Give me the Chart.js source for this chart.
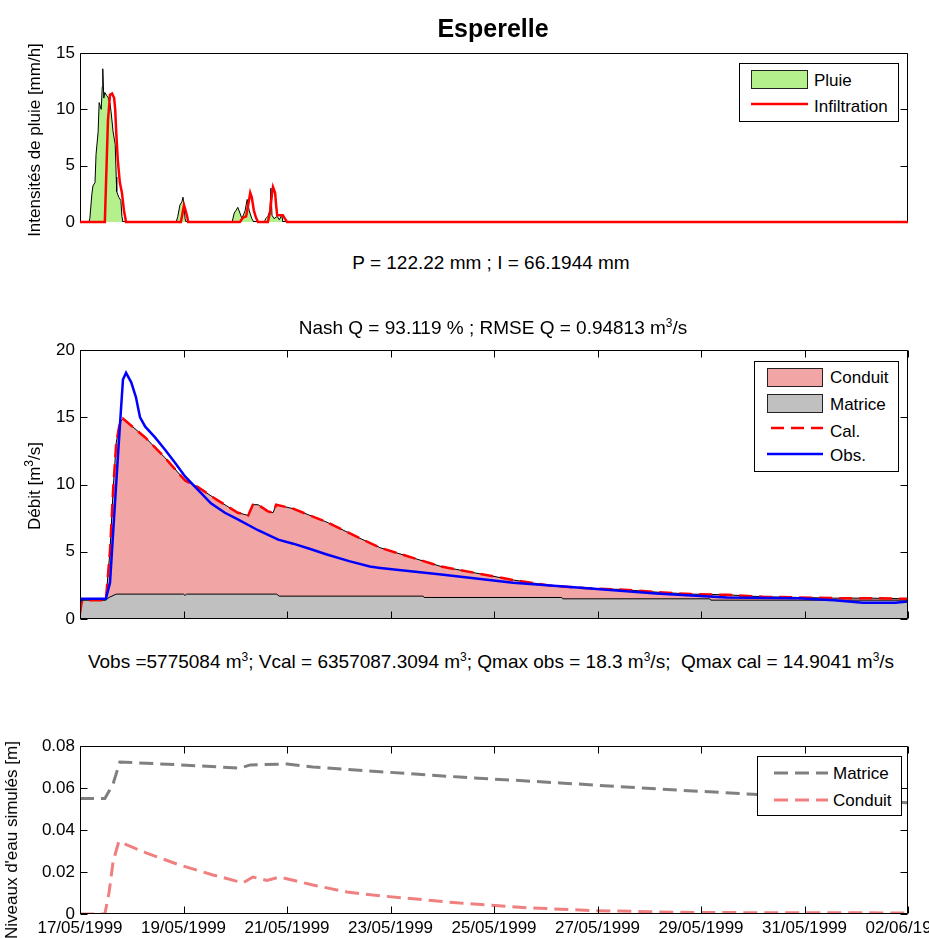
<!DOCTYPE html>
<html>
<head>
<meta charset="utf-8">
<script src="https://cdn.jsdelivr.net/npm/chart.js@4.4.1/dist/chart.umd.min.js"></script>
<style>
  body { margin: 0; background: #fff; width: 929px; height: 938px; overflow: hidden; position: relative;
         font-family: "Liberation Sans", Arial, sans-serif; color: #000; }
  canvas { position: absolute; left: 0; }
  .t { position: absolute; white-space: nowrap; font-size: 17px; transform: translate(-50%, -50%); }
  .big { font-size: 19px; }
  .r { transform: translate(-50%, -50%) rotate(-90deg); }
  .title { font-size: 25px; font-weight: bold; }
  sup { font-size: 12px; vertical-align: 7px; line-height: 0; }
  .leg { position: absolute; border: 1px solid #000; background: #fff; box-sizing: border-box; }
  .leg div, .leg svg { position: absolute; }
  .leg .lab { font-size: 17px; white-space: nowrap; transform: translateY(-50%); }
  .sw { border: 1px solid #222; box-sizing: border-box; }
</style>
</head>
<body>
<canvas id="rain" width="929" height="240" style="top:0"></canvas>
<canvas id="flow" width="929" height="340" style="top:300px"></canvas>
<canvas id="level" width="929" height="238" style="top:700px"></canvas>

<div class="t title" style="left:493px;top:28px">Esperelle</div>
<div class="t r" style="left:35px;top:140px">Intensités de pluie [mm/h]</div>
<div class="t big" style="left:491px;top:263px">P = 122.22 mm ; I = 66.1944 mm</div>
<div class="t big" style="left:493px;top:328px">Nash Q = 93.119 % ; RMSE Q = 0.94813 m<sup>3</sup>/s</div>
<div class="t r" style="left:35px;top:486px">Débit [m<sup>3</sup>/s]</div>
<div class="t big" style="left:491px;top:662px">Vobs =5775084 m<sup>3</sup>; Vcal = 6357087.3094 m<sup>3</sup>; Qmax obs = 18.3 m<sup>3</sup>/s;&nbsp; Qmax cal = 14.9041 m<sup>3</sup>/s</div>
<div class="t r" style="left:12px;top:840px">Niveaux d'eau simulés [m]</div>

<div class="leg" style="left:739px;top:63px;width:160px;height:59px">
  <div class="sw" style="left:11px;top:6px;width:57px;height:19px;background:#b4f08c"></div>
  <div class="lab" style="left:74px;top:17px">Pluie</div>
  <svg style="left:11px;top:36px" width="57" height="8"><line x1="0" y1="4" x2="57" y2="4" stroke="#f00" stroke-width="2.5"/></svg>
  <div class="lab" style="left:74px;top:43px">Infiltration</div>
</div>

<div class="leg" style="left:754px;top:361px;width:145px;height:111px">
  <div class="sw" style="left:12px;top:6px;width:56px;height:19px;background:#f2a5a5"></div>
  <div class="lab" style="left:75px;top:16px">Conduit</div>
  <div class="sw" style="left:12px;top:32px;width:56px;height:19px;background:#c0c0c0"></div>
  <div class="lab" style="left:75px;top:43px">Matrice</div>
  <svg style="left:12px;top:62px" width="56" height="8"><line x1="4" y1="4" x2="56" y2="4" stroke="#f00" stroke-width="2.5" stroke-dasharray="13 7"/></svg>
  <div class="lab" style="left:75px;top:70px">Cal.</div>
  <svg style="left:12px;top:88px" width="56" height="8"><line x1="0" y1="4" x2="56" y2="4" stroke="#00f" stroke-width="2.5"/></svg>
  <div class="lab" style="left:75px;top:94px">Obs.</div>
</div>

<div class="leg" style="left:757px;top:756px;width:145px;height:60px">
  <svg style="left:16px;top:12px" width="54" height="8"><line x1="0" y1="4" x2="54" y2="4" stroke="#808080" stroke-width="3" stroke-dasharray="14 7"/></svg>
  <div class="lab" style="left:75px;top:17px">Matrice</div>
  <svg style="left:16px;top:39px" width="54" height="8"><line x1="0" y1="4" x2="54" y2="4" stroke="#f08080" stroke-width="3" stroke-dasharray="14 7"/></svg>
  <div class="lab" style="left:75px;top:44px">Conduit</div>
</div>

<script>
// time axis: days since 17/05/1999 00:00
const xTickDays = [0, 2, 4, 6, 8, 10, 12, 14, 16];
const xDateLabels = ['17/05/1999', '19/05/1999', '21/05/1999', '23/05/1999', '25/05/1999',
  '27/05/1999', '29/05/1999', '31/05/1999', '02/06/1999'];

const yTicksRain = [0, 5, 10, 15];
const yTicksFlow = [0, 5, 10, 15, 20];
const yTicksLevel = [0, 0.02, 0.04, 0.06, 0.08];

// rain intensity (mm/h) [day, value]
const pluie = [[0, 0], [0.17, 0], [0.19, 0.3], [0.23, 2.5], [0.25, 3.2], [0.29, 3.5], [0.31, 6], [0.35, 8],
  [0.37, 10.6], [0.41, 10], [0.43, 12], [0.44, 13.6], [0.46, 11], [0.48, 11.5], [0.52, 11.2], [0.54, 11.1],
  [0.58, 10.5], [0.60, 9.8], [0.64, 8], [0.68, 6.9], [0.70, 4], [0.71, 2.7], [0.75, 2.2], [0.79, 1.9],
  [0.81, 0.5], [0.83, 0], [1.86, 0], [1.89, 0.5], [1.93, 1.5], [1.97, 1.8], [1.99, 2.2], [2.01, 1.5],
  [2.03, 0.3], [2.05, 0], [2.94, 0], [2.98, 0.8], [3.01, 1.0], [3.05, 1.3], [3.09, 0.8], [3.13, 0.3],
  [3.19, 1.0], [3.23, 2.0], [3.27, 1.0], [3.32, 0.3], [3.36, 0], [3.56, 0], [3.59, 0.3], [3.63, 0.5],
  [3.67, 1.0], [3.69, 3.0], [3.71, 0.6], [3.75, 0.3], [3.81, 0.5], [3.85, 0.2], [3.90, 0.6], [3.92, 0], [16, 0]];

const infiltration = [[0, 0], [0.48, 0], [0.50, 3], [0.54, 9], [0.58, 11.3], [0.62, 11.4], [0.66, 11],
  [0.68, 10], [0.70, 8], [0.73, 5.5], [0.77, 3.5], [0.81, 2.6], [0.85, 1], [0.89, 0], [1.95, 0], [1.99, 1],
  [2.01, 1.5], [2.03, 1.2], [2.07, 0.5], [2.09, 0], [3.09, 0], [3.15, 0.4], [3.21, 0.5], [3.25, 1.5],
  [3.29, 2.6], [3.32, 2.2], [3.36, 1], [3.40, 0.4], [3.44, 0], [3.63, 0], [3.67, 0.8], [3.71, 2.5],
  [3.73, 3.1], [3.77, 2.6], [3.79, 1.5], [3.81, 0.6], [3.86, 0.6], [3.92, 0.6], [3.96, 0.3], [4.00, 0], [16, 0]];

// discharge (m3/s)
const qObs = [[0, 1.3], [0.03, 1.5], [0.50, 1.5], [0.58, 2.7], [0.64, 6.4], [0.70, 10.1], [0.77, 14.3],
  [0.83, 17.8], [0.89, 18.3], [0.99, 17.6], [1.08, 16.5], [1.16, 15], [1.26, 14.3], [1.45, 13.5], [1.64, 12.6],
  [1.84, 11.6], [2.03, 10.6], [2.28, 9.6], [2.53, 8.6], [2.80, 7.9], [3.05, 7.4], [3.44, 6.6], [3.83, 5.9],
  [4.12, 5.6], [4.45, 5.2], [4.77, 4.8], [5.20, 4.3], [5.60, 3.9], [5.80, 3.8], [6.98, 3.3], [8.37, 2.7],
  [9.74, 2.3], [11.13, 1.9], [12.50, 1.6], [13.89, 1.55], [14.57, 1.4], [15.13, 1.2], [15.75, 1.2], [16, 1.3]];

const qCal = [[0, 0.4], [0.03, 1.2], [0.06, 1.4], [0.50, 1.4], [0.58, 5.1], [0.64, 9.6], [0.70, 13.1],
  [0.77, 14.6], [0.83, 14.9], [1.26, 13.5], [1.64, 12], [2.03, 10.3], [2.28, 9.8], [2.67, 8.8], [3.05, 7.9],
  [3.25, 7.7], [3.34, 8.5], [3.44, 8.5], [3.63, 8.0], [3.73, 7.9], [3.79, 8.5], [4.12, 8.2], [4.77, 7.2],
  [5.41, 6.0], [5.80, 5.3], [6.30, 4.7], [6.98, 3.9], [7.67, 3.4], [8.37, 2.9], [9.06, 2.5],
  [9.74, 2.3], [10.43, 2.2], [11.13, 2.0], [11.81, 1.85], [12.50, 1.8], [13.20, 1.65], [13.89, 1.6],
  [14.57, 1.55], [15.27, 1.55], [16, 1.5]];

const qMatrice = [[0, 1.2], [0.06, 1.4], [0.50, 1.4], [0.56, 1.6], [0.70, 1.85], [2.00, 1.85], [2.03, 1.75],
  [2.06, 1.85], [3.80, 1.85], [3.85, 1.7], [6.63, 1.7], [6.65, 1.6], [9.31, 1.6], [9.33, 1.5], [12.17, 1.5],
  [12.19, 1.4], [16, 1.4]];

// simulated water levels (m)
const hMatrice = [[0, 0.055], [0.48, 0.055], [0.64, 0.062], [0.77, 0.0724], [1.93, 0.071], [3.09, 0.0695],
  [3.29, 0.071], [4.0, 0.0714], [4.5, 0.070], [5.66, 0.068], [7.34, 0.0652], [9.28, 0.0624], [11.21, 0.0595],
  [13.01, 0.057], [16, 0.053]];

const hConduit = [[0, 0], [0.48, 0], [0.56, 0.01], [0.64, 0.025], [0.75, 0.0345], [1.29, 0.029],
  [1.93, 0.0233], [2.57, 0.0186], [3.15, 0.0148], [3.34, 0.0176], [3.61, 0.016], [3.86, 0.0176],
  [4.5, 0.0138], [5.16, 0.0105], [5.66, 0.009], [7.34, 0.0052], [8.64, 0.003], [9.91, 0.0016],
  [11.84, 0.0007], [16, 0.0005]];

const toXY = arr => arr.map(([x, y]) => ({ x, y }));
const tickFont = { family: 'Liberation Sans', size: 17 };

// MATLAB-style box with inward ticks
function drawBox(chart, opts) {
  const { ctx, chartArea: a } = chart;
  const xs = chart.scales.x, ys = chart.scales.y;
  const L = Math.round(a.left) + 0.5, R = Math.round(a.right) - 0.5;
  const T = Math.round(a.top) + 0.5, B = Math.round(a.bottom) - 0.5;
  ctx.save();
  ctx.strokeStyle = '#000';
  ctx.lineWidth = 1;
  ctx.beginPath();
  if (opts.xTicks) {
    xTickDays.forEach(v => {
      const px = Math.round(xs.getPixelForValue(v)) + 0.5;
      ctx.moveTo(px, B); ctx.lineTo(px, B - 7);
      ctx.moveTo(px, T); ctx.lineTo(px, T + 7);
    });
  }
  opts.yTicks.forEach(v => {
    const py = Math.round(ys.getPixelForValue(v)) + 0.5;
    ctx.moveTo(L, py); ctx.lineTo(L + 7, py);
    ctx.moveTo(R, py); ctx.lineTo(R - 7, py);
  });
  ctx.rect(L, T, R - L, B - T);
  ctx.stroke();
  ctx.restore();
}

const boxPlugin = {
  id: 'box',
  beforeDatasetsDraw(chart, args, opts) { if (opts.under) drawBox(chart, opts); },
  afterDatasetsDraw(chart, args, opts) { if (!opts.under) drawBox(chart, opts); }
};

function makeOptions(pad, xHeight, showX, yMax, yTicks, yFmt, xTicks, under) {
  return {
    responsive: false,
    animation: false,
    devicePixelRatio: 1,
    layout: { padding: { top: pad[0], right: 21, bottom: pad[1], left: 0 } },
    elements: { point: { radius: 0 }, line: { tension: 0 } },
    plugins: {
      legend: { display: false },
      tooltip: { enabled: false },
      box: { yTicks, xTicks, under }
    },
    scales: {
      x: {
        type: 'linear', min: 0, max: 16,
        afterBuildTicks: s => { s.ticks = xTickDays.map(v => ({ value: v })); },
        afterFit: s => { s.height = xHeight; s.paddingLeft = 0; s.paddingRight = 0; },
        grid: { display: false, drawTicks: false },
        border: { display: false },
        ticks: {
          display: showX, padding: 4, maxRotation: 0, autoSkip: false, font: tickFont, color: '#000',
          callback: (v, i) => xDateLabels[i]
        }
      },
      y: {
        min: 0, max: yMax,
        afterBuildTicks: s => { s.ticks = yTicks.map(v => ({ value: v })); },
        afterFit: s => { s.width = 80; s.paddingTop = 0; s.paddingBottom = 0; },
        grid: { display: false, drawTicks: false },
        border: { display: false },
        ticks: { padding: 5, font: tickFont, color: '#000', callback: yFmt }
      }
    }
  };
}

new Chart(document.getElementById('rain'), {
  type: 'line',
  data: {
    datasets: [
      { label: 'Infiltration', data: toXY(infiltration), borderColor: '#ff0000', borderWidth: 2.5, fill: false, order: 0, clip: 3 },
      { label: 'Pluie', data: toXY(pluie), borderColor: '#000', borderWidth: 1, backgroundColor: '#b4f08c', fill: 'origin', order: 1 }
    ]
  },
  options: makeOptions([53, 18], 0, false, 15, yTicksRain, v => String(v), false, true),
  plugins: [boxPlugin]
});

new Chart(document.getElementById('flow'), {
  type: 'line',
  data: {
    datasets: [
      { label: 'Obs.', data: toXY(qObs), borderColor: '#0000ff', borderWidth: 2.5, fill: false, order: 0 },
      { label: 'Cal.', data: toXY(qCal), borderColor: '#ff0000', borderWidth: 2.5, borderDash: [13, 7], fill: false, order: 1 },
      { label: 'Matrice', data: toXY(qMatrice), borderColor: '#000', borderWidth: 1, backgroundColor: '#c0c0c0', fill: 'origin', order: 2 },
      { label: 'Conduit', data: toXY(qCal), borderColor: '#000', borderWidth: 1, backgroundColor: '#f2a5a5', fill: 'origin', order: 3 }
    ]
  },
  options: makeOptions([50, 21], 0, false, 20, yTicksFlow, v => String(v), true, false),
  plugins: [boxPlugin]
});

new Chart(document.getElementById('level'), {
  type: 'line',
  data: {
    datasets: [
      { label: 'Matrice', data: toXY(hMatrice), borderColor: '#808080', borderWidth: 3, borderDash: [14, 7], fill: false },
      { label: 'Conduit', data: toXY(hConduit), borderColor: '#f08080', borderWidth: 3, borderDash: [14, 7], fill: false }
    ]
  },
  options: makeOptions([46, 0], 24, true, 0.08, yTicksLevel, v => (v === 0 ? '0' : v.toFixed(2)), true, false),
  plugins: [boxPlugin]
});
</script>
</body>
</html>
